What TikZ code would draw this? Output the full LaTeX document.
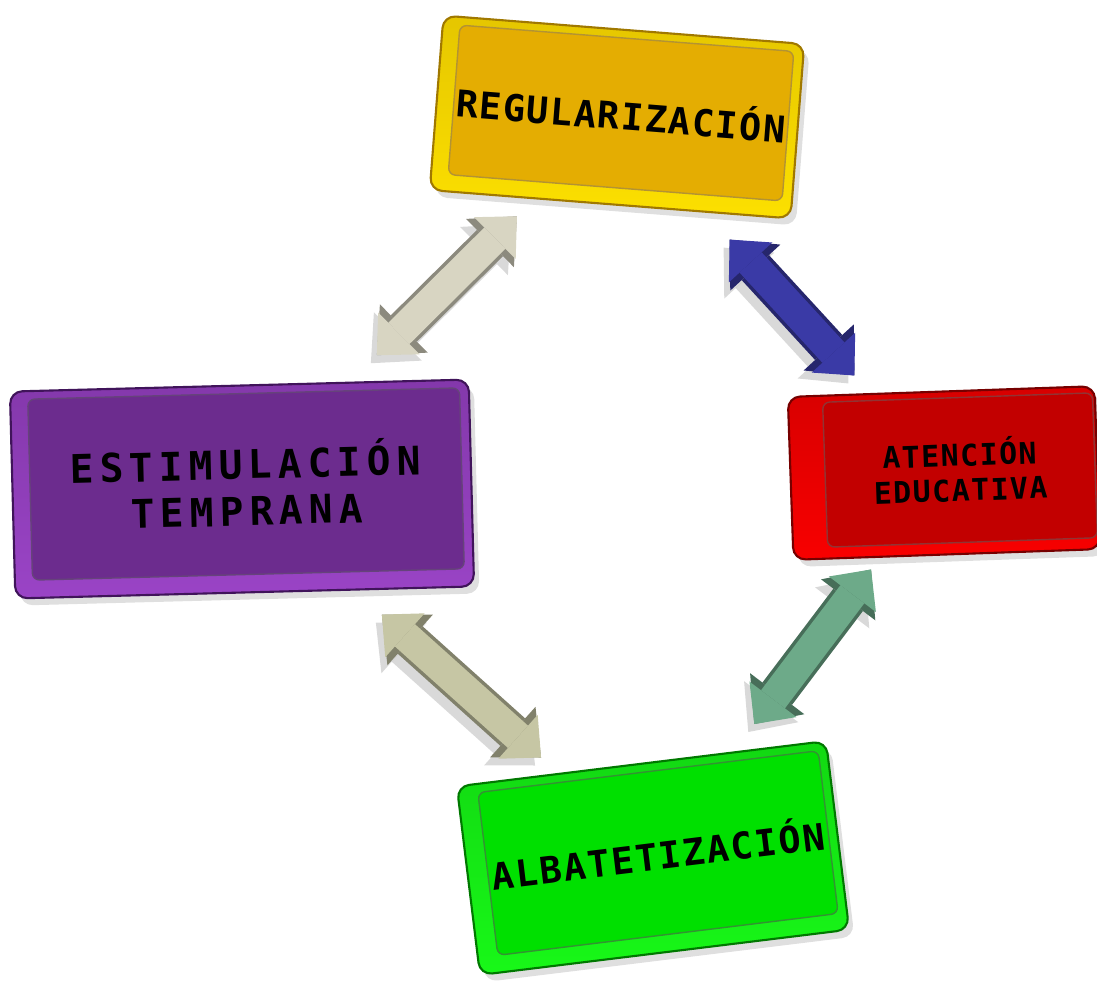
\documentclass[tikz,border=0pt]{standalone}
\usepackage{fontspec}
\usetikzlibrary{arrows.meta,shadows,calc}
\newfontfamily\boxfont{DejaVu Sans Mono}

\definecolor{yelrim}{HTML}{FCE000}
\definecolor{yelface}{HTML}{E4AD02}
\definecolor{yeledge}{HTML}{A07800}
\definecolor{redrim}{HTML}{F80000}
\definecolor{redface}{HTML}{C20000}
\definecolor{rededge}{HTML}{760000}
\definecolor{purrim}{HTML}{9A44C6}
\definecolor{purface}{HTML}{6C2C8E}
\definecolor{puredge}{HTML}{40145A}
\definecolor{grnrim}{HTML}{18F818}
\definecolor{grnface}{HTML}{00E000}
\definecolor{grnedge}{HTML}{007800}
\definecolor{arrgray}{HTML}{D8D5C2}
\definecolor{arrblue}{HTML}{3A3AA6}
\definecolor{arrolive}{HTML}{C6C6A4}
\definecolor{arrsea}{HTML}{6DAA89}

\tikzset{
  box/.style={rectangle, rounded corners=7pt, line width=1.2pt, inner sep=0pt,
    drop shadow={shadow xshift=3pt, shadow yshift=-4pt, opacity=0.25}},
  face/.style={rectangle, rounded corners=4pt, line width=0.8pt, inner sep=0pt,
    align=center, text=black},
  arrline/.style={line width=0.74cm,
    {Triangle[width=1.36cm,length=0.76cm,line width=0pt]}-{Triangle[width=1.36cm,length=0.76cm,line width=0pt]}},
  arrbody/.style={line width=0.6cm,
    {Triangle[width=1.18cm,length=0.62cm,line width=0pt]}-{Triangle[width=1.18cm,length=0.62cm,line width=0pt]}},
}

\begin{document}
\begin{tikzpicture}[x=0.02cm, y=-0.02cm]
  \useasboundingbox (0,0) rectangle (1097,985);

  % Boxes
  \node[box, top color=yelrim!75!yeledge, bottom color=yelrim, draw=yeledge,
    minimum width=7.24cm, minimum height=3.5cm, rotate=-4.5] (yel) at (617,117) {};
  \node[face, fill=yelface, draw=yeledge!80, minimum width=6.7cm, minimum height=3cm, rotate=-4.5,
    font={\boxfont\bfseries\fontsize{21}{25}\selectfont\addfontfeature{LetterSpace=4}}]
    (yelf) at ($(yel)+(4,-4)$) {REGULARIZACIÓN};

  \node[box, top color=redrim!75!rededge, bottom color=redrim, draw=rededge,
    minimum width=6.14cm, minimum height=3.26cm, rotate=2] (red) at (944,473) {};
  \node[face, fill=redface, draw=rededge!80, minimum width=5.4cm, minimum height=2.9cm, rotate=2,
    font={\boxfont\bfseries\fontsize{17}{20}\selectfont\addfontfeature{LetterSpace=5}}]
    (redf) at ($(red)+(16,-3)$) {ATENCIÓN\\EDUCATIVA};

  \node[box, top color=purrim!75!puredge, bottom color=purrim, draw=puredge,
    minimum width=9.18cm, minimum height=4.14cm, rotate=1.5] (pur) at (242,489) {};
  \node[face, fill=purface, draw=puredge!80, minimum width=8.64cm, minimum height=3.62cm, rotate=1.5,
    font={\boxfont\bfseries\fontsize{22.5}{26.5}\selectfont\addfontfeature{LetterSpace=15}}]
    (purf) at ($(pur)+(4,-5)$) {ESTIMULACIÓN\\TEMPRANA};

  \node[box, top color=grnrim!75!grnedge, bottom color=grnrim, draw=grnedge,
    minimum width=7.44cm, minimum height=3.8cm, rotate=7] (grn) at (653,858) {};
  \node[face, fill=grnface, draw=grnedge!80, minimum width=6.86cm, minimum height=3.28cm, rotate=7,
    font={\boxfont\bfseries\fontsize{21}{25}\selectfont\addfontfeature{LetterSpace=5}}]
    (grnf) at ($(grn)+(5,-5)$) {ALBATETIZACIÓN};

  % Arrows
  \foreach \a/\b/\s/\e/\c in {yel/pur/2.82cm/3.8cm/arrgray, yel/red/3.33cm/2.65cm/arrblue,
                              pur/grn/3.76cm/3.01cm/arrolive, grn/red/3.36cm/2.42cm/arrsea}
  {
    \draw[arrline, draw=black, opacity=0.15, transform canvas={shift={(-0.12cm,-0.16cm)}},
      shorten <=\s, shorten >=\e] (\a.center) -- (\b.center);
    \draw[arrline, draw=\c!65!black, shorten <=\s, shorten >=\e] (\a.center) -- (\b.center);
    \draw[arrbody, draw=\c, shorten <=\s, shorten >=\e] (\a.center) -- (\b.center);
  }
\end{tikzpicture}
\end{document}
